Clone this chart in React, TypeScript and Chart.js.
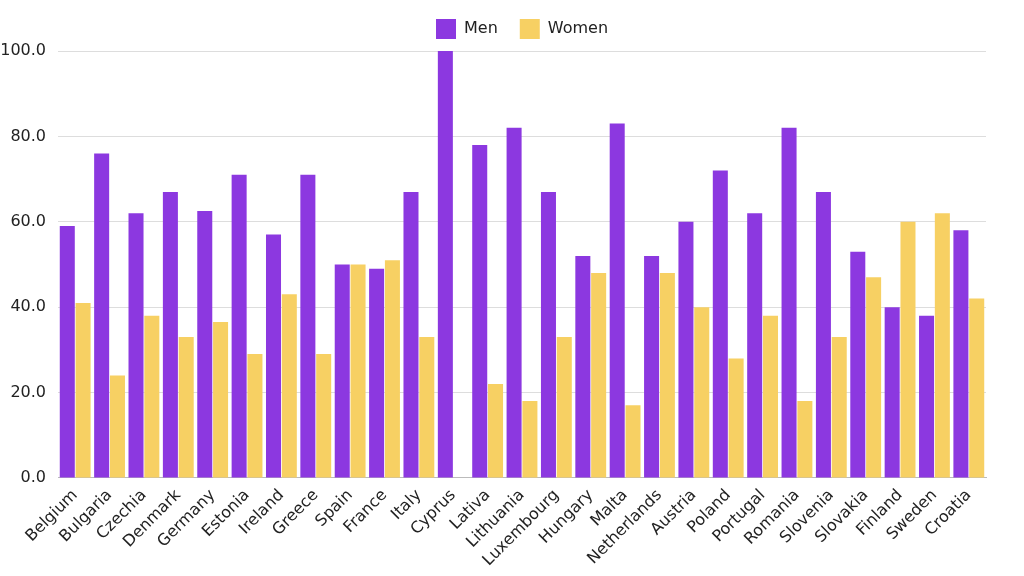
import React, { useEffect, useRef } from "react";
import { Chart, registerables } from "chart.js";

Chart.register(...registerables);

const categories = ["Belgium","Bulgaria","Czechia","Denmark","Germany","Estonia","Ireland","Greece","Spain","France","Italy","Cyprus","Lativa","Lithuania","Luxembourg","Hungary","Malta","Netherlands","Austria","Poland","Portugal","Romania","Slovenia","Slovakia","Finland","Sweden","Croatia"];
const menValues = [59,76,62,67,62.5,71,57,71,50,49,67,100,78,82,67,52,83,52,60,72,62,82,67,53,40,38,58];
const womenValues = [41,24,38,33,36.5,29,43,29,50,51,33,0,22,18,33,48,17,48,40,28,38,18,33,47,60,62,42];
const seriesLabels = ["Men","Women"];

const FONT = "'DejaVu Sans', sans-serif";

const centerLegendOnArea = {
  id: "centerLegendOnArea",
  afterUpdate(chart: any) {
    const lg = chart.legend;
    if (!lg) return;
    const areaCenter = (chart.chartArea.left + chart.chartArea.right) / 2;
    const cur = (lg.left + lg.right) / 2;
    const d = areaCenter - cur;
    lg.left += d;
    lg.right += d;
    lg.top -= 2;
    lg.bottom -= 2;
    lg.adjustHitBoxes();
  },
};

export default function App() {
  const ref = useRef<HTMLCanvasElement>(null);
  useEffect(() => {
    document.body.style.margin = "0";
    const chart = new Chart(ref.current!, {
      type: "bar",
      data: {
        labels: categories,
        datasets: [
          { label: seriesLabels[0], data: menValues, backgroundColor: "#8C38E0", borderWidth: 0, categoryPercentage: 0.92, barPercentage: 0.95 },
          { label: seriesLabels[1], data: womenValues, backgroundColor: "#F7D063", borderWidth: 0, categoryPercentage: 0.92, barPercentage: 0.95 },
        ],
      },
      plugins: [centerLegendOnArea],
      options: {
        responsive: false,
        animation: false,
        layout: { padding: { left: 0, right: 38, top: -1, bottom: 6 } },
        plugins: {
          legend: {
            position: "top",
            labels: { font: { family: FONT, size: 16 }, color: "#222", boxWidth: 20, boxHeight: 20, padding: 22 },
          },
          tooltip: { enabled: false },
        },
        scales: {
          x: {
            grid: { display: false },
            border: { display: true, color: "#bbb" },
            ticks: { font: { family: FONT, size: 16 }, color: "#222", maxRotation: 45, minRotation: 45, autoSkip: false, padding: 0 },
          },
          y: {
            min: 0,
            max: 100,
            afterFit: (s: any) => { s.width = 58; },
            grid: { color: "#ddd", drawTicks: false },
            border: { display: false },
            ticks: { stepSize: 20, font: { family: FONT, size: 16 }, color: "#222", padding: 12, callback: (v: any) => Number(v).toFixed(1) },
          },
        },
      },
    });
    return () => chart.destroy();
  }, []);
  return <canvas ref={ref} width={1024} height={576} style={{ display: "block" }} />;
}
